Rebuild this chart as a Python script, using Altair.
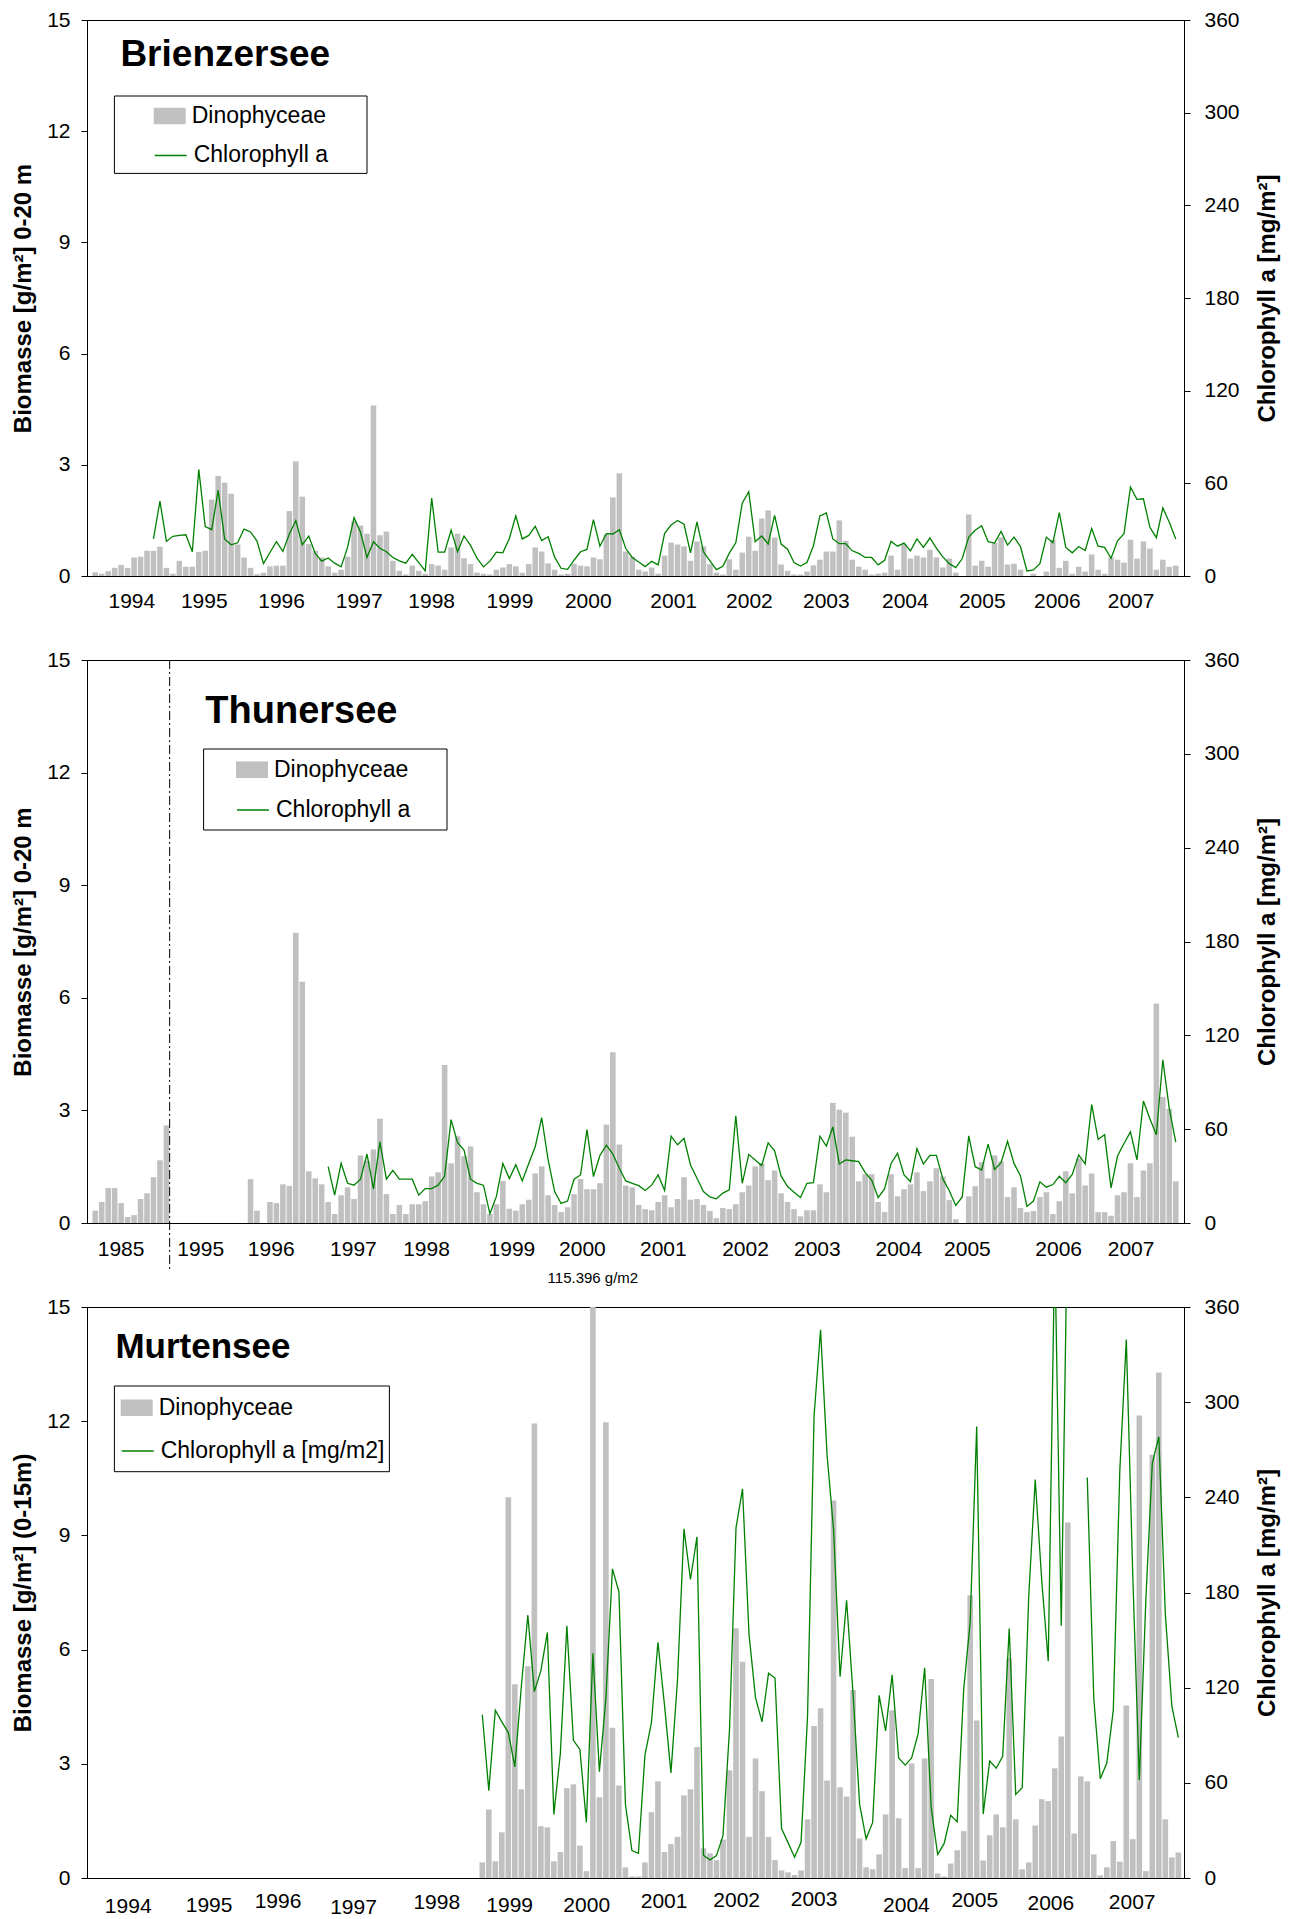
import altair as alt
import pandas as pd

FONT = "Liberation Sans"
GRAY = "#c0c0c0"
GREEN = "#008000"

# ---------------- Panel 1: Brienzersee (monthly, 1994-2007) ----------------
p1_years = ["1994", "1995", "1996", "1997", "1998", "1999", "2000",
            "2001", "2002", "2003", "2004", "2005", "2006", "2007"]
p1_label_pos = [6.16, 17.35, 29.3, 41.3, 52.5, 64.6, 76.7,
                89.9, 101.6, 113.5, 125.7, 137.6, 149.2, 160.6]
p1_dino_rows = [
    [0.10, 0.06, 0.13, 0.22, 0.30, 0.22, 0.50, 0.52, 0.68, 0.68, 0.79, 0.22],
    [0.06, 0.41, 0.25, 0.25, 0.65, 0.68, 2.06, 2.70, 2.52, 2.22, 0.85, 0.50],
    [0.22, 0.05, 0.09, 0.26, 0.28, 0.28, 1.75, 3.09, 2.14, 0.86, 0.68, 0.50],
    [0.26, 0.09, 0.17, 0.52, 1.48, 1.36, 1.14, 4.60, 1.10, 1.20, 0.41, 0.14],
    [0.04, 0.28, 0.14, 0.06, 0.32, 0.28, 0.17, 0.77, 1.14, 0.48, 0.32, 0.09],
    [0.06, 0.04, 0.17, 0.23, 0.32, 0.26, 0.09, 0.32, 0.77, 0.66, 0.34, 0.17],
    [0.04, 0.06, 0.33, 0.28, 0.26, 0.50, 0.45, 1.12, 2.12, 2.77, 0.66, 0.52],
    [0.17, 0.12, 0.23, 0.06, 0.55, 0.90, 0.85, 0.80, 0.41, 0.93, 0.80, 0.32],
    [0.09, 0.04, 0.45, 0.17, 0.63, 1.06, 0.68, 1.55, 1.77, 1.04, 0.31, 0.14],
    [0.04, 0.04, 0.12, 0.29, 0.44, 0.66, 0.66, 1.50, 0.95, 0.44, 0.25, 0.17],
    [0.04, 0.06, 0.09, 0.55, 0.17, 0.86, 0.47, 0.55, 0.50, 0.71, 0.50, 0.23],
    [0.47, 0.09, 0.00, 1.66, 0.28, 0.41, 0.25, 0.90, 1.04, 0.31, 0.33, 0.17],
    [0.00, 0.06, 0.00, 0.12, 0.98, 0.22, 0.41, 0.06, 0.25, 0.12, 0.58, 0.17],
    [0.06, 0.50, 0.44, 0.36, 0.98, 0.47, 0.93, 0.74, 0.17, 0.44, 0.25, 0.28],
]
p1_chl_rows = [
    [None] * 9 + [24.0, 48.5, 22.4],
    [25.7, 26.3, 26.7, 15.7, 69.0, 32.0, 30.0, 55.4, 24.0, 20.2, 21.5, 30.4],
    [28.5, 22.6, 8.0, 15.2, 22.2, 15.9, 27.2, 35.9, 20.2, 25.9, 14.6, 9.6],
    [11.7, 8.3, 5.9, 18.5, 37.8, 28.3, 12.0, 22.2, 18.0, 15.7, 12.0, 9.8],
    [8.3, 14.0, 8.7, 3.3, 50.4, 15.4, 15.4, 29.8, 15.7, 25.9, 19.8, 11.5],
    [5.9, 9.6, 15.4, 15.0, 24.3, 38.9, 24.0, 26.3, 32.2, 23.0, 25.4, 12.2],
    [5.0, 4.3, 10.2, 15.7, 17.2, 36.5, 19.3, 27.4, 27.2, 30.0, 17.8, 12.0],
    [9.1, 6.1, 9.6, 7.2, 27.6, 33.0, 35.9, 33.5, 15.0, 35.0, 15.7, 9.8],
    [4.1, 6.3, 14.8, 21.5, 47.2, 54.6, 22.2, 25.9, 20.7, 39.3, 20.7, 17.4],
    [8.7, 6.5, 8.7, 19.6, 38.9, 40.9, 24.0, 20.9, 20.9, 16.3, 14.6, 12.0],
    [12.0, 7.2, 10.2, 22.4, 19.3, 21.3, 16.3, 24.0, 18.5, 24.6, 18.0, 12.4],
    [8.0, 5.4, 11.3, 25.2, 29.6, 32.6, 22.2, 21.3, 28.9, 20.0, 25.2, 19.1],
    [3.3, 3.9, 8.0, 25.2, 21.5, 41.1, 18.5, 15.0, 19.1, 16.5, 30.7, 19.3],
    [18.5, 11.5, 22.8, 27.4, 57.6, 49.6, 50.0, 31.5, 24.8, 44.1, 34.8, 24.0],
]

# ---------------- Panel 2: Thunersee (1985, 1995, 1996-2007) ----------------
p2_years = ["1985", "1995", "1996", "1997", "1998", "1999", "2000",
            "2001", "2002", "2003", "2004", "2005", "2006", "2007"]
p2_label_pos = [4.5, 16.8, 27.7, 40.4, 51.7, 64.9, 75.8,
                88.3, 101.0, 112.1, 124.7, 135.3, 149.4, 160.6]
p2_dino_rows = [
    [0.33, 0.56, 0.93, 0.93, 0.53, 0.16, 0.21, 0.64, 0.79, 1.22, 1.67, 2.60],
    [0.0] * 12,
    [1.17, 0.33, 0.00, 0.56, 0.53, 1.03, 0.99, 7.73, 6.43, 1.38, 1.19, 1.03],
    [0.56, 0.24, 0.74, 0.95, 0.64, 1.80, 1.66, 1.96, 2.78, 0.77, 0.24, 0.48],
    [0.24, 0.50, 0.50, 0.58, 1.24, 1.35, 4.21, 1.59, 2.31, 1.78, 2.04, 0.82],
    [0.50, 0.24, 0.50, 1.12, 0.38, 0.33, 0.50, 0.62, 1.32, 1.51, 0.74, 0.48],
    [0.29, 0.42, 0.77, 1.17, 0.90, 0.90, 1.06, 2.62, 4.55, 2.09, 1.00, 0.95],
    [0.48, 0.37, 0.34, 0.56, 0.74, 0.42, 0.64, 1.22, 0.62, 0.64, 0.48, 0.32],
    [0.13, 0.40, 0.37, 0.50, 0.82, 1.00, 1.51, 1.59, 1.14, 1.40, 0.79, 0.56],
    [0.37, 0.18, 0.34, 0.34, 1.03, 0.82, 3.20, 3.02, 2.94, 2.30, 1.11, 1.30],
    [1.30, 0.56, 0.29, 1.30, 0.71, 0.90, 1.03, 1.35, 0.85, 1.11, 1.46, 1.24],
    [0.61, 0.10, 0.00, 0.71, 0.98, 1.62, 1.19, 1.80, 1.64, 0.69, 0.95, 0.40],
    [0.29, 0.32, 0.69, 0.82, 0.24, 0.58, 1.38, 0.79, 1.72, 1.00, 1.32, 0.29],
    [0.29, 0.19, 0.74, 0.82, 1.59, 0.69, 1.40, 1.59, 5.85, 3.36, 3.04, 1.11],
]
p2_chl_rows = [
    [None] * 12,
    [None] * 12,
    [None] * 12,
    [36.0, 17.8, 38.1, 25.4, 24.2, 28.0, 44.1, 21.8, 51.9, 28.0, 33.7, 28.0],
    [28.0, 28.0, 17.8, 22.0, 22.0, 24.2, 30.0, 66.1, 51.3, 46.6, 28.0, 25.4],
    [24.2, 5.9, 17.0, 38.1, 28.4, 37.3, 26.9, 38.1, 48.7, 67.4, 40.3, 20.1],
    [12.5, 14.0, 28.0, 30.7, 59.7, 29.7, 43.2, 49.8, 44.1, 35.0, 26.9, 25.4],
    [23.9, 20.8, 24.2, 30.7, 20.8, 55.5, 50.0, 54.2, 37.1, 28.6, 20.1, 16.7],
    [15.5, 19.1, 21.2, 68.6, 25.4, 43.9, 40.3, 36.7, 51.3, 46.2, 30.1, 23.3],
    [19.7, 16.3, 25.4, 25.8, 55.5, 49.2, 61.4, 37.7, 40.3, 39.8, 39.2, 32.2],
    [27.5, 16.3, 22.0, 38.1, 44.5, 30.7, 26.5, 47.5, 37.7, 43.2, 43.2, 28.2],
    [20.6, 11.2, 16.7, 55.7, 36.0, 33.9, 50.4, 34.3, 38.6, 52.3, 38.1, 30.1],
    [10.6, 14.0, 26.3, 22.9, 24.6, 29.9, 25.8, 31.1, 43.6, 37.7, 75.8, 53.4],
    [56.4, 22.5, 42.8, 50.8, 58.3, 40.3, 78.0, 66.7, 56.4, 104.4, 73.1, 51.7],
]

# ---------------- Panel 3: Murtensee (axis 1994-2007, data 1999-2007) ----------------
p3_years = ["1994", "1995", "1996", "1997", "1998", "1999", "2000",
            "2001", "2002", "2003", "2004", "2005", "2006", "2007"]
p3_label_pos = [5.57, 18.0, 28.6, 40.2, 53.0, 64.2, 76.05,
                87.95, 99.1, 111.0, 125.2, 135.7, 147.4, 159.9]
p3_label_dy = [28.5, 28, 24, 29.5, 25, 28, 28, 24, 22.5, 21.5, 27.5, 23, 25.5, 24.5]
p3_dino_rows = [
    [0.41, 1.80, 0.44, 1.20, 10.00, 5.09, 2.33, 5.56, 11.94, 1.36, 1.33, 0.44],
    [0.68, 2.36, 2.46, 0.85, 0.18, 115.396, 2.12, 11.97, 3.95, 2.43, 0.28, 0.04],
    [0.04, 0.41, 1.73, 2.54, 0.68, 0.89, 1.08, 2.17, 2.33, 3.44, 0.78, 0.65],
    [0.47, 1.01, 2.83, 6.56, 5.68, 1.08, 3.14, 2.28, 1.08, 0.47, 0.20, 0.15],
    [0.08, 0.20, 1.54, 3.99, 4.46, 2.56, 9.92, 2.38, 2.14, 4.94, 1.04, 0.28],
    [0.23, 0.62, 1.67, 4.41, 1.57, 0.26, 3.01, 0.26, 3.14, 5.23, 0.12, 0.04],
    [0.38, 0.73, 1.23, 7.43, 4.14, 0.46, 1.12, 1.67, 1.33, 5.77, 1.54, 0.23],
    [0.41, 1.38, 2.07, 2.02, 2.88, 3.72, 9.34, 1.17, 2.67, 2.54, 0.62, 0.07],
    [0.28, 0.97, 0.43, 4.53, 1.02, 12.15, 0.18, 11.12, 13.28, 1.54, 0.54, 0.67],
]
p3_chl_rows = [
    [102.9, 55.1, 105.8, 98.4, 91.7, 70.0, 120.7, 165.7, 117.5, 130.6, 154.8, 40.1],
    [78.6, 159.0, 86.8, 81.1, 35.1, 141.7, 67.0, 113.3, 194.9, 180.5, 46.5, 17.3],
    [15.6, 77.4, 97.9, 148.6, 109.3, 66.3, 124.4, 220.1, 188.2, 215.1, 14.3, 11.4],
    [14.1, 26.7, 93.5, 220.8, 245.3, 153.6, 113.7, 98.4, 129.1, 126.1, 31.2, 22.3],
    [13.1, 22.5, 102.1, 291.3, 345.7, 266.6, 219.6, 126.9, 175.1, 115.7, 46.5, 24.7],
    [34.9, 115.2, 92.7, 128.1, 75.7, 71.2, 75.7, 91.0, 132.5, 44.5, 14.8, 21.8],
    [39.6, 35.4, 118.7, 161.5, 284.6, 40.3, 73.7, 69.2, 76.7, 157.3, 52.7, 56.9],
    [177.5, 251.2, 187.4, 136.7, 400.0, 159.0, 430.0, None, None, 252.5, 113.3, 62.6],
    [72.5, 105.8, 256.7, 339.5, 189.9, 61.8, 175.1, 261.6, 278.2, 166.4, 108.3, 88.5],
]


def flat(rows):
    out = []
    for r in rows:
        out.extend(r)
    return out


def make_panel(cfg):
    W, H = cfg["W"], cfg["H"]
    off = cfg["offset"]
    bars_v = flat(cfg["dino"])
    chl_v = flat(cfg["chl"])
    n = len(bars_v)
    bar_df = pd.DataFrame({
        "x0": [off + i + 0.07 for i in range(n)],
        "x1": [off + i + 0.93 for i in range(n)],
        "v": bars_v,
        "z": [0.0] * n,
        "s": ["Dinophyceae"] * n,
    })
    rows, seg, prev = [], 0, False
    for i, c in enumerate(chl_v):
        if c is None:
            if prev:
                seg += 1
            prev = False
            continue
        rows.append({"xm": off + i + 0.5, "c": c, "seg": seg, "s": cfg["chl_name"]})
        prev = True
    line_df = pd.DataFrame(rows)

    xs = alt.Scale(domain=[0, cfg["xmax"]], nice=False, zero=False)
    xticks = [t for t in range(0, 169, 12) if t <= cfg["xmax"] + 0.01]

    lx, ly1, ly2 = cfg["legend"]
    bars = alt.Chart(bar_df).mark_bar(clip=True, orient="vertical").encode(
        x=alt.X("x0:Q", scale=xs,
                axis=alt.Axis(values=xticks, labels=False, tickSize=9, title=None,
                              grid=False, domainColor="black", tickColor="black")),
        x2="x1:Q",
        y=alt.Y("v:Q", scale=alt.Scale(domain=[0, 15], nice=False, zero=True),
                stack=None,
                axis=alt.Axis(orient="left", values=[0, 3, 6, 9, 12, 15], grid=False,
                              tickSize=6, labelPadding=11, labelFontSize=21,
                              title=cfg["ytitle"], titleFontSize=24, titleFontWeight="bold",
                              titleAngle=270, titleX=-64, titleY=H / 2,
                              titleAlign="center", titleBaseline="middle")),
        y2="z:Q",
        fill=alt.Fill("s:N", scale=alt.Scale(domain=["Dinophyceae"], range=[GRAY]),
                      legend=alt.Legend(orient="none", legendX=lx, legendY=ly1, title=None,
                                        padding=0, labelFontSize=23, labelFont=FONT,
                                        labelColor="black", labelOffset=6, labelLimit=500,
                                        symbolType="M-1,-0.52H1V0.52H-1Z", symbolSize=1024,
                                        symbolStrokeWidth=0)),
    )
    line = alt.Chart(line_df).mark_line(clip=True, strokeWidth=1.3).encode(
        x=alt.X("xm:Q", scale=xs, axis=None),
        y=alt.Y("c:Q", scale=alt.Scale(domain=[0, 360], nice=False, zero=True),
                axis=alt.Axis(orient="right", values=[0, 60, 120, 180, 240, 300, 360],
                              grid=False, tickSize=6, labelPadding=14, labelFontSize=21,
                              title="Chlorophyll a [mg/m²]", titleFontSize=24,
                              titleFontWeight="bold", titleAngle=270, titleX=83,
                              titleY=H / 2, titleAlign="center", titleBaseline="middle")),
        stroke=alt.Stroke("s:N", scale=alt.Scale(domain=[cfg["chl_name"]], range=[GREEN]),
                          legend=alt.Legend(orient="none", legendX=lx, legendY=ly2, title=None,
                                            padding=0, labelFontSize=23, labelFont=FONT,
                                            labelColor="black", labelOffset=6, labelLimit=500,
                                            symbolType="stroke", symbolSize=1024,
                                            symbolStrokeWidth=1.5)),
        detail="seg:N",
    )
    bx0, by0, bx1, by1 = cfg["box"]
    box = alt.Chart(pd.DataFrame({"k": [0]})).mark_rect(
        fill="white", stroke="black", strokeWidth=1).encode(
        x=alt.value(bx0), x2=alt.value(bx1), y=alt.value(by0), y2=alt.value(by1))
    tx, ty = cfg["title_pos"]
    title = alt.Chart(pd.DataFrame({"t": [cfg["title"]]})).mark_text(
        align="left", baseline="alphabetic", fontSize=cfg["title_size"], fontWeight="bold",
        font=FONT, color="black").encode(x=alt.value(tx), y=alt.value(ty), text="t:N")
    lab_df = pd.DataFrame({"pos": cfg["label_pos"], "t": cfg["labels"],
                           "yo": [H + d for d in cfg["label_dy"]]})
    labels = alt.Chart(lab_df).mark_text(
        fontSize=21, font=FONT, baseline="middle", align="center", color="black").encode(
        x=alt.X("pos:Q", scale=xs, axis=None),
        y=alt.Y("yo:Q", scale=None, axis=None),
        text="t:N")
    layers = [bars, line, box, title, labels]
    if cfg.get("break_at") is not None:
        rule = alt.Chart(pd.DataFrame({"xr": [cfg["break_at"]]})).mark_rule(
            color="black", strokeWidth=1, strokeDash=[9, 3, 2, 3]).encode(
            x=alt.X("xr:Q", scale=xs, axis=None), y=alt.value(0), y2=alt.value(H + 48))
        layers.append(rule)
    if cfg.get("note"):
        vmax = max(bars_v)
        imax = bars_v.index(vmax)
        note_df = pd.DataFrame({"xn": [off + imax + 0.5], "t": [f"{vmax:.3f} g/m2"]})
        note = alt.Chart(note_df).mark_text(
            fontSize=15, font=FONT, color="black", align="center", baseline="middle").encode(
            x=alt.X("xn:Q", scale=xs, axis=None), y=alt.value(-29), text="t:N")
        layers.append(note)
    return alt.layer(*layers).resolve_scale(y="independent").properties(width=W, height=H)


p1 = make_panel(dict(
    W=1097, H=556, offset=0, xmax=168, dino=p1_dino_rows, chl=p1_chl_rows,
    chl_name="Chlorophyll a", ytitle="Biomasse [g/m²]  0-20 m",
    labels=p1_years, label_pos=p1_label_pos, label_dy=[25.5] * 14,
    legend=(66.7, 80, 118.4), box=(27.4, 76, 280, 153.4),
    title="Brienzersee", title_pos=(33.4, 46), title_size=37,
))
p2 = make_panel(dict(
    W=1097, H=563, offset=0, xmax=168, dino=p2_dino_rows, chl=p2_chl_rows,
    chl_name="Chlorophyll a", ytitle="Biomasse [g/m²] 0-20 m",
    labels=p2_years, label_pos=p2_label_pos, label_dy=[27] * 14,
    legend=(149, 93.7, 133), box=(116.6, 89, 360, 170),
    title="Thunersee", title_pos=(118.3, 63.3), title_size=38,
    break_at=len(p2_dino_rows[0]),
))
p3 = make_panel(dict(
    W=1097, H=571, offset=59.5, xmax=167.1, dino=p3_dino_rows, chl=p3_chl_rows,
    chl_name="Chlorophyll a [mg/m2]", ytitle="Biomasse [g/m²] (0-15m)",
    labels=p3_years, label_pos=p3_label_pos, label_dy=p3_label_dy,
    legend=(33.7, 84.7, 127), box=(27.4, 79, 302.4, 164.7),
    title="Murtensee", title_pos=(28.4, 50.7), title_size=35, note=True,
))

chart = alt.vconcat(p1, p2, p3, spacing=84, bounds="flush").resolve_scale(
    x="independent", y="independent", fill="independent", stroke="independent"
).resolve_legend(fill="independent", stroke="independent").properties(
    padding={"left": 2, "top": 0, "right": 5, "bottom": 0}
).configure_view(stroke="black", strokeWidth=1).configure_axis(
    labelFont=FONT, titleFont=FONT, labelColor="black", titleColor="black",
    domainColor="black", tickColor="black", grid=False
).configure_text(font=FONT)

chart.save("out.html", embed_options={"renderer": "svg", "actions": False})
